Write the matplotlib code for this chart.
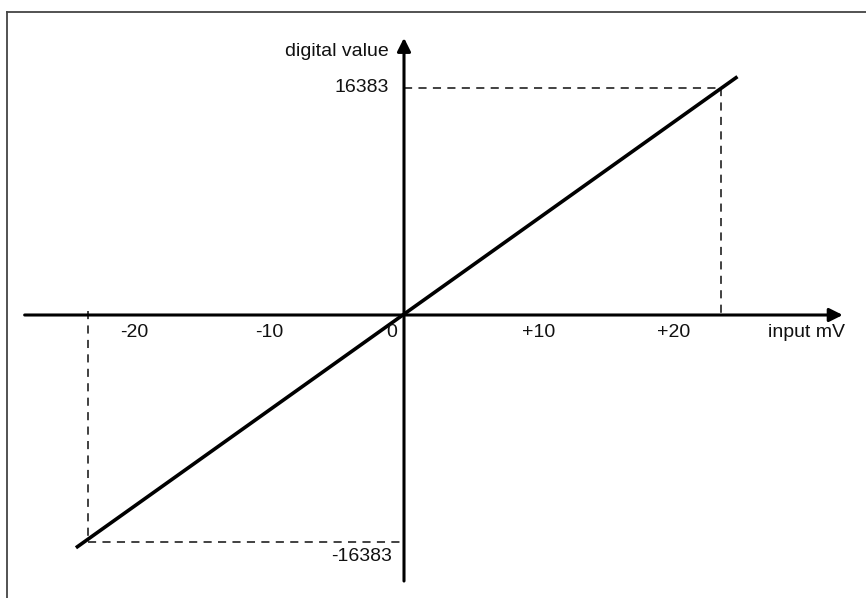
import matplotlib

matplotlib.use("Agg")
import matplotlib.pyplot as plt
from matplotlib.lines import Line2D

# transfer characteristic: input mV -> digital value
FULL_SCALE_MV = [-23.4, 23.5]
FULL_SCALE_CODE = [-16383, 16383]
LINE_MV = [-24.3, 24.7]
LINE_CODE = [-16800, 17200]
XTICK_POS = [-20, -10, 10, 20]
XTICK_TXT = ["-20", "-10", "+10", "+20"]
X_AXIS_END = [-28.1, 32.5]
Y_AXIS_END = [-19200, 20000]

plt.rcParams["font.family"] = ["Liberation Sans", "DejaVu Sans"]
plt.rcParams["font.size"] = 14

W, H = 866, 598
fig = plt.figure(figsize=(W / 100, H / 100), dpi=100)
ax = fig.add_axes([0, 0, 1, 1])
ax.set_axis_off()

# pixel layout of the origin and the scales
ox, oy = 404, 315
px_per_mv = 13.5
px_per_code = 227 / 16383
ax.set_xlim(-ox / px_per_mv, (W - ox) / px_per_mv)
ax.set_ylim(-(H - oy) / px_per_code, oy / px_per_code)

# axes with arrows
arrow = dict(arrowstyle="-|>", lw=2.2, color="black", mutation_scale=20, shrinkA=0, shrinkB=0)
ax.annotate("", xy=(X_AXIS_END[1], 0), xytext=(X_AXIS_END[0], 0), arrowprops=arrow)
ax.annotate("", xy=(0, Y_AXIS_END[1]), xytext=(0, Y_AXIS_END[0]), arrowprops=arrow)

# dashed guides to full scale
dash = dict(color="#333333", lw=1.3, ls=(0, (4.5, 3.5)))
ax.plot([0, FULL_SCALE_MV[1]], [FULL_SCALE_CODE[1]] * 2, **dash)
ax.plot([FULL_SCALE_MV[1]] * 2, [FULL_SCALE_CODE[1], 0], **dash)
ax.plot([FULL_SCALE_MV[0], 0], [FULL_SCALE_CODE[0]] * 2, **dash)
ax.plot([FULL_SCALE_MV[0]] * 2, [300, FULL_SCALE_CODE[0]], **dash)

# characteristic line
ax.plot(LINE_MV, LINE_CODE, color="black", lw=2.6, solid_capstyle="butt")

# labels
ty = -18 / px_per_code
for x, t in zip(XTICK_POS, XTICK_TXT):
    ax.text(x, ty, t, ha="center", va="center", color="#111111")
ax.text(-0.9, ty, "0", ha="center", va="center", color="#111111")
ax.text(29.8, ty, "input mV", ha="center", va="center", color="#111111")
ax.text(-1.1, FULL_SCALE_CODE[1], str(FULL_SCALE_CODE[1]), ha="right", va="center", color="#111111")
ax.text(-0.9, FULL_SCALE_CODE[0] - 15 / px_per_code, str(FULL_SCALE_CODE[0]),
        ha="right", va="center", color="#111111")
ax.text(-1.1, 263 / px_per_code, "digital value", ha="right", va="center", color="#111111")

# frame (top and left edges only)
fig.add_artist(Line2D([7 / W, 1], [1 - 12 / H] * 2, color="#444444", lw=1.3))
fig.add_artist(Line2D([7 / W] * 2, [0, 1 - 12 / H], color="#444444", lw=1.3))

fig.savefig("out.png", dpi=100, facecolor="white")
